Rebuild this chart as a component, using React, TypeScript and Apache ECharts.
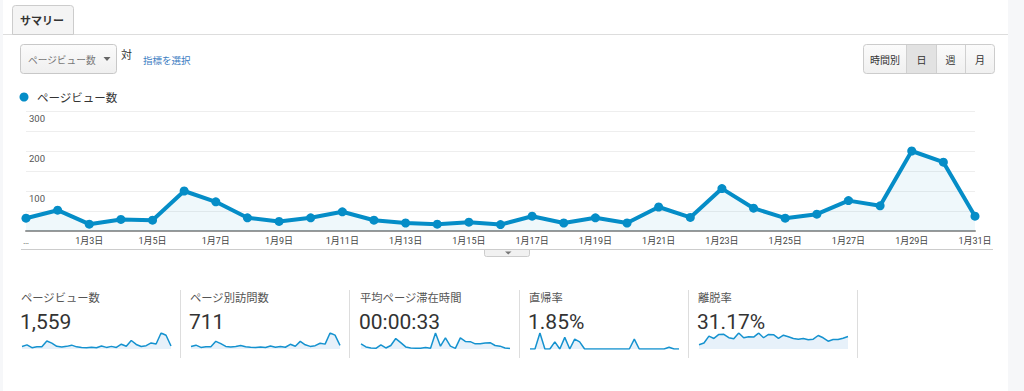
import React, { useEffect, useRef } from "react";
import * as echarts from "echarts";

const categories = [
  "1月1日", "1月2日", "1月3日", "1月4日", "1月5日", "1月6日", "1月7日", "1月8日",
  "1月9日", "1月10日", "1月11日", "1月12日", "1月13日", "1月14日", "1月15日", "1月16日",
  "1月17日", "1月18日", "1月19日", "1月20日", "1月21日", "1月22日", "1月23日", "1月24日",
  "1月25日", "1月26日", "1月27日", "1月28日", "1月29日", "1月30日", "1月31日",
];

const pageViews = [32, 52, 17, 29, 27, 100, 73, 33, 24, 33, 48, 27, 20, 17, 22, 16, 37, 20, 33, 20, 60, 34, 106, 57, 32, 42, 76, 63, 200, 172, 37];
const uniquePageViews = [14, 22, 9, 13, 13, 44, 31, 15, 12, 15, 20, 13, 10, 9, 11, 9, 17, 10, 15, 10, 27, 16, 44, 24, 15, 19, 33, 28, 92, 80, 21];
const avgTimeSec = [40, 16, 8, 5, 32, 8, 27, 81, 49, 16, 8, 5, 5, 11, 5, 124, 22, 86, 22, 5, 86, 59, 57, 40, 40, 46, 49, 27, 22, 8, 3];
const bounceRate = [0, 0, 12.5, 0, 0, 5.56, 0, 9.09, 0, 7.69, 5.56, 0, 0, 0, 0, 0, 0, 0, 0, 0, 0, 7.69, 0, 0, 0, 0, 0, 0, 1.39, 0, 0];
const exitRate = [12.4, 17.1, 36.8, 30.2, 41.7, 41.9, 32.3, 29.1, 45.8, 32.0, 35.2, 34.1, 45.6, 32.2, 41.8, 41.0, 30.3, 39.6, 35.0, 30.1, 28.2, 30.0, 26.3, 28.1, 38.7, 32.1, 22.4, 27.2, 27.4, 31.0, 35.8];

const yLabelValues = [100, 200, 300];

const metricLabels = ["ページビュー数", "ページ別訪問数", "平均ページ滞在時間", "直帰率", "離脱率"];
const metricValues = ["1,559", "711", "00:00:33", "1.85%", "31.17%"];
const sparkSeries = [pageViews, uniquePageViews, avgTimeSec, bounceRate, exitRate];

const intervalButtons = ["時間別", "日", "週", "月"];

const BLUE = "#058dc7";
const JP = '"Noto Sans CJK JP", sans-serif';
const RB = 'Roboto, "Noto Sans CJK JP", sans-serif';

function txt(x: number, y: number, text: string, font: string, fill: string, align = "left", extra: any = {}) {
  return {
    type: "text",
    x,
    y,
    silent: true,
    style: {
      text,
      font,
      fill,
      align,
      textAlign: align,
      verticalAlign: "middle",
      textVerticalAlign: "middle",
      ...extra,
    },
  };
}

export default function App() {
  const ref = useRef<HTMLDivElement>(null);

  useEffect(() => {
    if (!ref.current) return;
    const chart = echarts.init(ref.current, null, { renderer: "svg" });

    const colX = [21, 190, 360, 529, 698];
    const sepX = [180.5, 349.5, 519.5, 688.5, 857.5];

    const grids: any[] = [{ left: 26, right: 49, top: 111, height: 120 }];
    const xAxes: any[] = [
      {
        type: "category",
        gridIndex: 0,
        data: categories,
        boundaryGap: false,
        axisTick: { show: false },
        axisLine: { lineStyle: { color: "#999", width: 2 } },
        axisLabel: {
          interval: 1,
          margin: 5,
          color: "#444",
          fontSize: 9,
          fontFamily: RB,
          formatter: (v: string, i: number) => (i === 0 ? "…" : v),
        },
      },
    ];
    const yAxes: any[] = [
      {
        type: "value",
        gridIndex: 0,
        min: 0,
        max: 300,
        interval: 50,
        axisLine: { show: false },
        axisTick: { show: false },
        splitLine: { lineStyle: { color: "#eeeeee", width: 1 } },
        axisLabel: {
          inside: true,
          margin: 3,
          color: "#555",
          fontSize: 9.5,
          fontFamily: RB,
          verticalAlign: "top",
          padding: [3, 0, 0, 0],
          formatter: (v: number) => (yLabelValues.includes(v) ? String(v) : ""),
        },
      },
    ];
    const series: any[] = [
      {
        type: "line",
        xAxisIndex: 0,
        yAxisIndex: 0,
        data: pageViews,
        symbol: "circle",
        symbolSize: 9,
        showSymbol: true,
        itemStyle: { color: BLUE },
        lineStyle: { color: BLUE, width: 4 },
        areaStyle: { color: "rgba(5,141,199,0.09)" },
        z: 3,
      },
    ];

    sparkSeries.forEach((d, k) => {
      const gi = k + 1;
      grids.push({ left: colX[k] + 1, top: 333, width: 149, height: 16 });
      xAxes.push({ type: "category", gridIndex: gi, data: categories, boundaryGap: false, show: false });
      yAxes.push({ type: "value", gridIndex: gi, min: 0, max: "dataMax", show: false, splitLine: { show: false } });
      series.push({
        type: "line",
        xAxisIndex: gi,
        yAxisIndex: gi,
        data: d,
        showSymbol: false,
        symbol: "none",
        lineStyle: { color: "#1592cf", width: 1.5 },
        areaStyle: { color: "#e7f1fa", opacity: 1 },
      });
    });

    const graphics: any[] = [];
    // side strips
    graphics.push({ type: "rect", shape: { x: 1008, y: 0, width: 16, height: 391 }, style: { fill: "#f6f7f9" }, silent: true });
    graphics.push({ type: "rect", shape: { x: 0, y: 0, width: 3, height: 391 }, style: { fill: "#f6f7f9" }, silent: true });
    // tab
    graphics.push({ type: "line", shape: { x1: 3, y1: 34.5, x2: 1008, y2: 34.5 }, style: { stroke: "#dddddd", lineWidth: 1 }, silent: true });
    graphics.push({ type: "rect", shape: { x: 12.5, y: 5.5, width: 61, height: 29, r: [3, 3, 0, 0] }, style: { fill: "#f4f4f4", stroke: "#cccccc", lineWidth: 1 }, silent: true });
    graphics.push(txt(20, 20, "サマリー", `bold 11px ${JP}`, "#333"));
    // dropdown
    graphics.push({
      type: "rect",
      shape: { x: 20.5, y: 44.5, width: 96, height: 29, r: 3 },
      style: {
        fill: new echarts.graphic.LinearGradient(0, 0, 0, 1, [
          { offset: 0, color: "#fbfbfb" },
          { offset: 1, color: "#efefef" },
        ]),
        stroke: "#c8c8c8",
        lineWidth: 1,
      },
      silent: true,
    });
    graphics.push(txt(28, 59.5, "ページビュー数", `9.7px ${JP}`, "#777"));
    graphics.push({ type: "polygon", shape: { points: [[103.5, 57], [110.5, 57], [107, 61]] }, style: { fill: "#666" }, silent: true });
    graphics.push(txt(126.5, 54, "対", `11px ${JP}`, "#333", "center"));
    graphics.push(txt(143, 59.5, "指標を選択", `9.5px ${JP}`, "#3c7dc2"));
    // interval buttons
    graphics.push({
      type: "rect",
      shape: { x: 863.5, y: 44.5, width: 131, height: 29, r: 3 },
      style: {
        fill: new echarts.graphic.LinearGradient(0, 0, 0, 1, [
          { offset: 0, color: "#fbfbfb" },
          { offset: 1, color: "#f0f0f0" },
        ]),
        stroke: "#cccccc",
        lineWidth: 1,
      },
      silent: true,
    });
    graphics.push({ type: "rect", shape: { x: 907, y: 45, width: 29, height: 28 }, style: { fill: "#e2e2e2" }, silent: true });
    [906.5, 936.5, 965.5].forEach((x) =>
      graphics.push({ type: "line", shape: { x1: x, y1: 45, x2: x, y2: 73 }, style: { stroke: "#d0d0d0", lineWidth: 1 }, silent: true })
    );
    const btnCx = [885, 921.5, 950.5, 980];
    intervalButtons.forEach((b, i) => graphics.push(txt(btnCx[i], 59, b, `10px ${JP}`, "#333", "center")));
    // legend
    graphics.push({ type: "circle", shape: { cx: 24, cy: 97, r: 4.5 }, style: { fill: BLUE }, silent: true });
    graphics.push(txt(37, 97, "ページビュー数", `11.5px ${JP}`, "#333"));
    // bottom line with handle
    graphics.push({ type: "line", shape: { x1: 21, y1: 249.5, x2: 993, y2: 249.5 }, style: { stroke: "#cccccc", lineWidth: 1 }, silent: true });
    graphics.push({
      type: "rect",
      shape: { x: 484.5, y: 249.5, width: 45, height: 7, r: [0, 0, 2, 2] },
      style: { fill: "#f1f1f1", stroke: "#cccccc", lineWidth: 1 },
      silent: true,
    });
    graphics.push({ type: "polygon", shape: { points: [[505, 251.5], [511.5, 251.5], [508.25, 254.5]] }, style: { fill: "#777" }, silent: true });
    // summary metrics
    sepX.forEach((x) =>
      graphics.push({ type: "line", shape: { x1: x, y1: 290, x2: x, y2: 358 }, style: { stroke: "#dddddd", lineWidth: 1 }, silent: true })
    );
    metricLabels.forEach((l, i) => {
      graphics.push(txt(colX[i], 297, l, `11.3px ${JP}`, "#555"));
      graphics.push(txt(colX[i] - 1, 322, metricValues[i], `21px ${RB}`, "#333"));
    });

    chart.setOption({
      animation: false,
      backgroundColor: "#ffffff",
      grid: grids,
      xAxis: xAxes,
      yAxis: yAxes,
      series,
      graphic: { elements: graphics },
    });

    return () => chart.dispose();
  }, []);

  return (
    <div
      ref={ref}
      style={{ position: "fixed", left: 0, top: 0, width: 1024, height: 391, background: "#fff" }}
    />
  );
}
